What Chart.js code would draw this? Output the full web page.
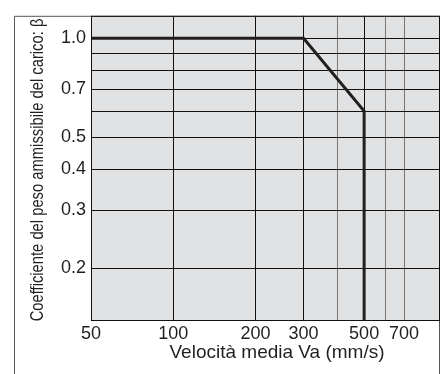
<!DOCTYPE html>
<html>
<head>
<meta charset="utf-8">
<script src="https://cdn.jsdelivr.net/npm/chart.js@4"></script>
<style>
  html, body { margin: 0; padding: 0; background: #fff; }
  #wrap { width: 443px; height: 374px; }
</style>
</head>
<body>
<div id="wrap"><canvas id="betaChart" width="443" height="374"></canvas></div>
<script>
// curva del coefficiente β in funzione della velocità media
const velocita = [50, 300, 500, 500];
const beta = [1.0, 1.0, 0.6, 0.139];

// griglia e etichette degli assi
const xGrid = [50, 100, 200, 300, 400, 500, 600, 700];
const xLabels = [50, 100, 200, 300, 500, 700];
const xGridChiare = [400, 600, 700];
const yGrid = [0.2, 0.3, 0.4, 0.5, 0.6, 0.7, 0.8, 0.9, 1.0];
const yLabels = [0.2, 0.3, 0.4, 0.5, 0.7, 1.0];

const xTitolo = 'Velocità media Va (mm/s)';
const yTitolo = 'Coefficiente del peso ammissibile del carico: β';

const FONT = '"Liberation Sans", Arial, Helvetica, sans-serif';
const INK = '#231f20';

const near = (arr, v) => arr.some(a => Math.abs(a - v) < 1e-6);

// sfondo grigio dell'area e cornici
const cornice = {
    id: 'cornice',
    beforeDraw(chart) {
        const { ctx, chartArea: a } = chart;
        ctx.save();
        ctx.fillStyle = '#e1e2e4';
        ctx.fillRect(a.left, a.top, a.right - a.left, a.bottom - a.top);
        ctx.restore();
    },
    afterDraw(chart) {
        const { ctx, chartArea: a, height } = chart;
        ctx.save();
        // riquadro esterno
        ctx.strokeStyle = '#555';
        ctx.lineWidth = 1;
        ctx.beginPath();
        ctx.moveTo(14.5, height);
        ctx.lineTo(14.5, a.top + 0.5);
        ctx.lineTo(a.right + 0.5, a.top + 0.5);
        ctx.lineTo(a.right + 0.5, height);
        ctx.stroke();
        // bordo dell'area del grafico
        ctx.strokeStyle = '#111';
        ctx.strokeRect(a.left + 0.5, a.top + 0.5, a.right - a.left, a.bottom - a.top);

        // titoli degli assi
        ctx.fillStyle = INK;
        ctx.textAlign = 'center';
        ctx.textBaseline = 'middle';
        ctx.font = '19px ' + FONT;
        ctx.fillText(xTitolo, 277, 353);

        ctx.translate(38, 170);
        ctx.rotate(-Math.PI / 2);
        ctx.scale(0.82, 1);
        ctx.font = '18px ' + FONT;
        ctx.fillText(yTitolo, 0, 0);
        ctx.restore();
    }
};

new Chart(document.getElementById('betaChart'), {
    type: 'line',
    data: {
        datasets: [{
            data: velocita.map((v, i) => ({ x: v, y: beta[i] })),
            borderColor: INK,
            borderWidth: 3,
            pointRadius: 0,
            tension: 0,
            fill: false,
            borderJoinStyle: 'miter'
        }]
    },
    options: {
        responsive: false,
        animation: false,
        layout: { padding: { left: 0, right: 4, top: 8, bottom: 0 } },
        plugins: { legend: { display: false }, tooltip: { enabled: false } },
        scales: {
            x: {
                type: 'logarithmic',
                min: 50,
                max: 940,
                afterBuildTicks: s => { s.ticks = xGrid.map(v => ({ value: v })); },
                afterFit: s => { s.height = 54; },
                border: { display: false },
                grid: {
                    drawTicks: false,
                    lineWidth: 1,
                    color: c => near(xGridChiare, c.tick.value) ? '#777' : '#111'
                },
                ticks: {
                    autoSkip: false,
                    maxRotation: 0,
                    padding: 3,
                    color: INK,
                    font: { family: FONT, size: 18 },
                    callback: v => near(xLabels, v) ? String(v) : ''
                }
            },
            y: {
                type: 'logarithmic',
                min: 0.139,
                max: 1.17,
                afterBuildTicks: s => { s.ticks = yGrid.map(v => ({ value: v })); },
                afterFit: s => { s.width = 91; },
                border: { display: false },
                grid: { drawTicks: false, lineWidth: 1, color: '#111' },
                ticks: {
                    autoSkip: false,
                    padding: 5,
                    color: INK,
                    font: { family: FONT, size: 18 },
                    callback: v => near(yLabels, v) ? v.toFixed(1) : ''
                }
            }
        }
    },
    plugins: [cornice]
});
</script>
</body>
</html>
